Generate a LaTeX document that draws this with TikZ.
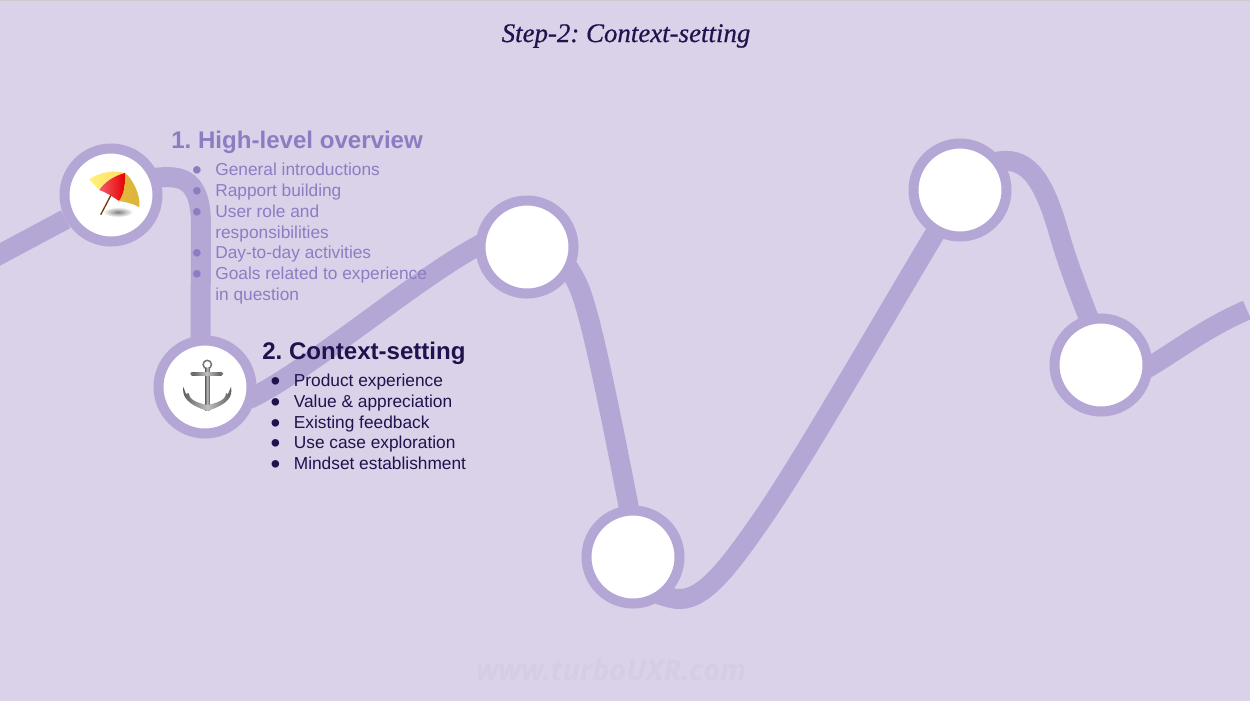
\documentclass[tikz,border=0pt]{standalone}
\usepackage{xcolor}
\usepackage{fontspec}
\setmainfont{Liberation Sans}
\newfontfamily\titlefont[FakeBold=0.5]{Liberation Serif}
\newfontfamily\markfont{Open Sans}
\usepackage{tikz}
\usetikzlibrary{backgrounds}
\definecolor{paper}{HTML}{D9D2E9}
\definecolor{trail}{HTML}{B4A7D6}
\definecolor{faded}{HTML}{8E7CC3}
\definecolor{inkdark}{HTML}{20124D}
\definecolor{markgrey}{HTML}{D4CDE4}
\definecolor{shadeyellow}{HTML}{FFF27A}
\definecolor{shadegold}{HTML}{DDB33E}
\definecolor{shadered}{HTML}{F2404F}
\newlength{\pxu}
\setlength{\pxu}{0.02cm}
\newcommand{\itemdot}{\llap{\raisebox{-0.24em}{\scalebox{1.6}{\textbullet}}\hspace{13.5\pxu}}}
\frenchspacing

\begin{document}
\begin{tikzpicture}[
    x=0.02cm, y=-0.02cm,
    stopring/.style={circle, draw=trail, fill=white, line width=10\pxu, minimum size=93\pxu, inner sep=0pt},
    trailline/.style={draw=trail, line width=20\pxu},
    trailjoin/.style={trailline, shorten <=-8\pxu, shorten >=-8\pxu},
    heading/.style={anchor=base west, inner sep=0pt, font=\fontsize{13.7pt}{16pt}\selectfont\bfseries},
    listline/.style={anchor=base west, inner sep=0pt, font=\fontsize{9.85pt}{12pt}\selectfont},
    anchormetal/.style={left color=black!65, right color=black!65, middle color=black!25}
]
    \useasboundingbox (0,0) rectangle (1250,701);

    % stops along the trail
    \node[stopring] (stopa) at (111,195) {};
    \node[stopring] (stopb) at (205,387) {};
    \node[stopring] (stopc) at (527,247) {};
    \node[stopring] (stopd) at (633,557) {};
    \node[stopring] (stope) at (960,190) {};
    \node[stopring] (stopf) at (1101,365) {};
    \coordinate (trailin) at (-5,257);
    \coordinate (trailout) at (1247,310);

    \begin{scope}[on background layer]
        \fill[paper] (0,0) rectangle (1250,701);
        \fill[black!20] (0,0) rectangle (1250,1);
        \draw[trailline] (trailin) -- (stopa);
        \draw[trailjoin] (stopa.20) .. controls (175,176) and (201,172) .. (201,225) -- (stopb.95);
        \draw[trailjoin] (stopb.-10) .. controls (310,370) and (420,275) .. (stopc.180);
        \draw[trailline, shorten >=-8\pxu] (stopc.center) .. controls (548,247) and (566,255) .. (580,290) .. controls (592,320) and (612,421) .. (stopd.95);
        \draw[trailjoin] (stopd.-50) .. controls (668,597) and (672,599) .. (680,599) .. controls (705,599) and (730,565) .. (760,522) .. controls (800,465) and (880,325) .. (stope.-120);
        \draw[trailjoin] (stope.35) .. controls (1025,155) and (1042,175) .. (1058,230) .. controls (1068,265) and (1078,290) .. (stopf.105);
        \draw[trailline, shorten <=-8\pxu] (stopf.0) .. controls (1175,352) and (1205,328) .. (trailout);
    \end{scope}

    % title and watermark
    \node[font=\titlefont\itshape\fontsize{15.3pt}{18pt}\selectfont, text=inkdark, inner sep=0pt] (title) at (626,36) {Step-2: Context-setting};
    \node[font=\markfont\bfseries\itshape\fontsize{16.4pt}{20pt}\selectfont, text=markgrey, inner sep=0pt] (mark) at (611,670) {www.turboUXR.com};

    % first block, faded
    \node[heading, text=faded] (overview) at (171,148) {1. High-level overview};
    \node[listline, text=faded] (intro) at (215,175) {\itemdot General introductions};
    \node[listline, text=faded] (rapport) at (215,196) {\itemdot Rapport building};
    \node[listline, text=faded] (role) at (215,217) {\itemdot User role and};
    \node[listline, text=faded] (roleb) at (215,238) {responsibilities};
    \node[listline, text=faded] (daily) at (215,258.5) {\itemdot Day-to-day activities};
    \node[listline, text=faded] (goals) at (215,279) {\itemdot Goals related to experience};
    \node[listline, text=faded] (goalsb) at (215,300) {in question};

    % second block
    \node[heading, text=inkdark] (context) at (262,359) {2. Context-setting};
    \node[listline, text=inkdark] (product) at (293.5,386) {\itemdot Product experience};
    \node[listline, text=inkdark] (value) at (293.5,407) {\itemdot Value \& appreciation};
    \node[listline, text=inkdark] (feedback) at (293.5,428) {\itemdot Existing feedback};
    \node[listline, text=inkdark] (usecase) at (293.5,448) {\itemdot Use case exploration};
    \node[listline, text=inkdark] (mindset) at (293.5,469) {\itemdot Mindset establishment};

    % umbrella icon
    \shade[inner color=black!50, outer color=white] (118,212) ellipse (15 and 5);
    \draw[draw=black!55!orange, line width=1.3\pxu] (111,195) -- (100.7,214.7);
    \shade[left color=shadeyellow, right color=shadeyellow!80!orange] (89.3,179.3) .. controls (98,173) and (112,169.5) .. (125,173) .. controls (113,176) and (104,183) .. (99.3,190) -- cycle;
    \shade[left color=shadered!85!white, right color=red!90!black] (99.3,190) .. controls (104,183) and (113,176) .. (125,173) .. controls (125.5,185) and (124,195) .. (119,201) .. controls (112,196) and (105,192) .. (99.3,190) -- cycle;
    \shade[left color=shadegold!90!yellow, right color=shadegold] (125,173) .. controls (132,178) and (141,195) .. (139.3,207.3) .. controls (132,203) and (125,202) .. (119,201) .. controls (124,195) and (125.5,185) .. (125,173) -- cycle;

    % anchor icon
    \draw[draw=black!55, line width=1.5\pxu] (207.3,364.5) circle (4.2);
    \shade[anchormetal] (205,368) rectangle (209.7,410);
    \shade[anchormetal] (191.7,372.4) rectangle (221.7,375);
    \fill[black!55] (192,373.7) circle (1.8) (221.5,373.7) circle (1.8);
    \shade[anchormetal] (183.3,386.7) .. controls (182,397) and (187,404) .. (207.3,411) .. controls (228,404) and (233,397) .. (231,386.7) -- (228,394) -- (226,393) .. controls (226,400) and (217,403) .. (207.3,405) .. controls (198,403) and (189,400) .. (188.5,393) -- (186,394) -- cycle;
\end{tikzpicture}
\end{document}
